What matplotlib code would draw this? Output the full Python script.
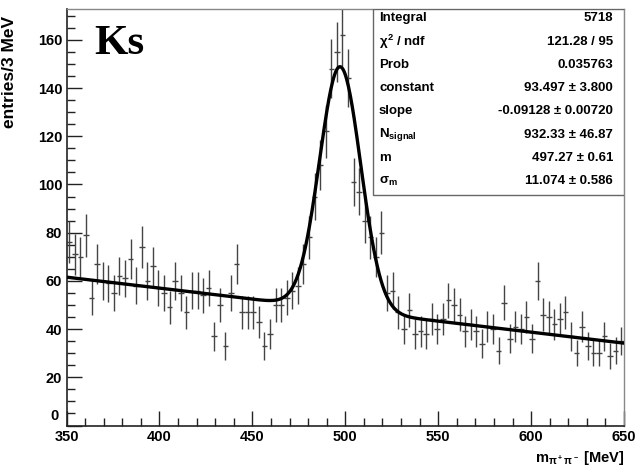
import numpy as np
import matplotlib
matplotlib.use("Agg")
import matplotlib.pyplot as plt
from matplotlib.ticker import MultipleLocator, FuncFormatter
from matplotlib.patches import Rectangle

# histogram: m(pi+pi-) from 350 to 650 MeV, 3 MeV bins
m_lo = 350.0
bin_w = 3.0
counts = [76, 71, 70, 79, 53, 67, 60, 59, 55, 62,
          61, 69, 58, 74, 60, 66, 57, 55, 49, 60,
          55, 47, 56, 56, 54, 57, 37, 50, 33, 55,
          67, 47, 47, 47, 43, 33, 38, 50, 50, 53,
          56, 58, 67, 78, 95, 108, 122, 148, 155, 162,
          144, 101, 97, 85, 78, 70, 80, 55, 56, 47,
          40, 48, 38, 39, 38, 44, 40, 44, 52, 50,
          46, 39, 42, 39, 34, 41, 40, 31, 51, 36,
          41, 40, 45, 36, 60, 46, 45, 42, 44, 47,
          37, 30, 41, 33, 30, 30, 37, 29, 31, 35]

# fit result (pol1 + gaus), from the stats box
p_const = 93.497
p_slope = -0.09128
n_signal = 932.33
m_peak = 497.27
sigma_m = 11.074

stat_names = ["Integral", r"$\chi^2$ / ndf", "Prob", "constant", "slope",
              r"N$_{\rm signal}$", "m", r"$\sigma_{\rm m}$"]
stat_values = ["5718", "121.28 / 95", "0.035763", "93.497 \u00b1 3.800",
               "-0.09128 \u00b1 0.00720", "932.33 \u00b1 46.87",
               "497.27 \u00b1 0.61", "11.074 \u00b1 0.586"]

plt.rcParams['font.family'] = ['Liberation Sans', 'DejaVu Sans']
plt.rcParams['mathtext.fontset'] = 'custom'
plt.rcParams['mathtext.rm'] = 'Liberation Sans:bold'
plt.rcParams['mathtext.it'] = 'Liberation Sans:bold'

W, H = 640, 470
fig = plt.figure(figsize=(6.4, 4.7), dpi=100)
x0, x1, y0, y1 = 66.5, 624.0, 9.0, 425.5
ax = fig.add_axes([x0 / W, 1 - y1 / H, (x1 - x0) / W, (y1 - y0) / H])

counts = np.array(counts, dtype=float)
centers = m_lo + bin_w * (np.arange(len(counts)) + 0.5)
ax.errorbar(centers, counts, yerr=np.sqrt(counts), xerr=bin_w / 2,
            fmt='none', ecolor='#444444', elinewidth=1.0, capsize=0, zorder=2)

mm = np.linspace(350, 650, 600)
fit = (p_const + p_slope * mm
       + n_signal * bin_w / (np.sqrt(2 * np.pi) * sigma_m)
       * np.exp(-0.5 * ((mm - m_peak) / sigma_m) ** 2))
ax.plot(mm, fit, color='black', lw=2.4, zorder=3)

ax.set_xlim(350, 650)
ax.set_ylim(0, 172.8)
ax.xaxis.set_major_locator(MultipleLocator(50))
ax.xaxis.set_minor_locator(MultipleLocator(10))
ax.yaxis.set_major_locator(MultipleLocator(20))
ax.yaxis.set_minor_locator(MultipleLocator(5))
# the "0" of the y axis is drawn a bit higher, as ROOT does
ax.yaxis.set_major_formatter(FuncFormatter(lambda v, p: "" if v == 0 else "%d" % v))
ax.tick_params(which='both', direction='in', top=False, right=False,
               width=1.0, color='#222222')
ax.tick_params(which='major', length=11, labelsize=10.5, pad=3)
ax.tick_params(which='minor', length=5.5)
for lab in ax.get_xticklabels() + ax.get_yticklabels():
    lab.set_fontweight('bold')
for s in ['left', 'bottom']:
    ax.spines[s].set_color('#222222')
    ax.spines[s].set_linewidth(1.2)
for s in ['top', 'right']:
    ax.spines[s].set_color('#888888')
    ax.spines[s].set_linewidth(1.0)

fig.text(59 / W, 1 - 416 / H, "0", ha='right', va='center',
         fontsize=10.5, fontweight='bold')
fig.text(10 / W, 1 - 16 / H, "entries/3 MeV", rotation=90, ha='center',
         va='top', fontsize=12.5, fontweight='bold')
fig.text(624 / W, 1 - 458 / H, r"m$_{\pi^+\pi^-}$ [MeV]", ha='right',
         va='center', fontsize=10.5, fontweight='bold')
fig.text(94 / W, 1 - 44 / H, "Ks", family=['Liberation Serif'],
         fontsize=31, fontweight='bold', ha='left', va='center')

# stats box
bx0, by0, by1 = 373.0, 9.0, 195.0
box = Rectangle(((bx0 - x0) / (x1 - x0), (y1 - by1) / (y1 - y0)),
                (x1 - bx0) / (x1 - x0), (by1 - by0) / (y1 - y0),
                transform=ax.transAxes, facecolor='white',
                edgecolor='#666666', lw=1.0, zorder=5)
ax.add_patch(box)
row_h = (by1 - by0) / len(stat_names)
for i, (nm, val) in enumerate(zip(stat_names, stat_values)):
    yy = by0 + row_h * (i + 0.4)
    fig.text(379 / W, 1 - yy / H, nm, ha='left', va='center',
             fontsize=9.5, fontweight='bold', zorder=6)
    fig.text(613 / W, 1 - yy / H, val, ha='right', va='center',
             fontsize=9.5, fontweight='bold', zorder=6)

fig.savefig("out.png", dpi=100)
